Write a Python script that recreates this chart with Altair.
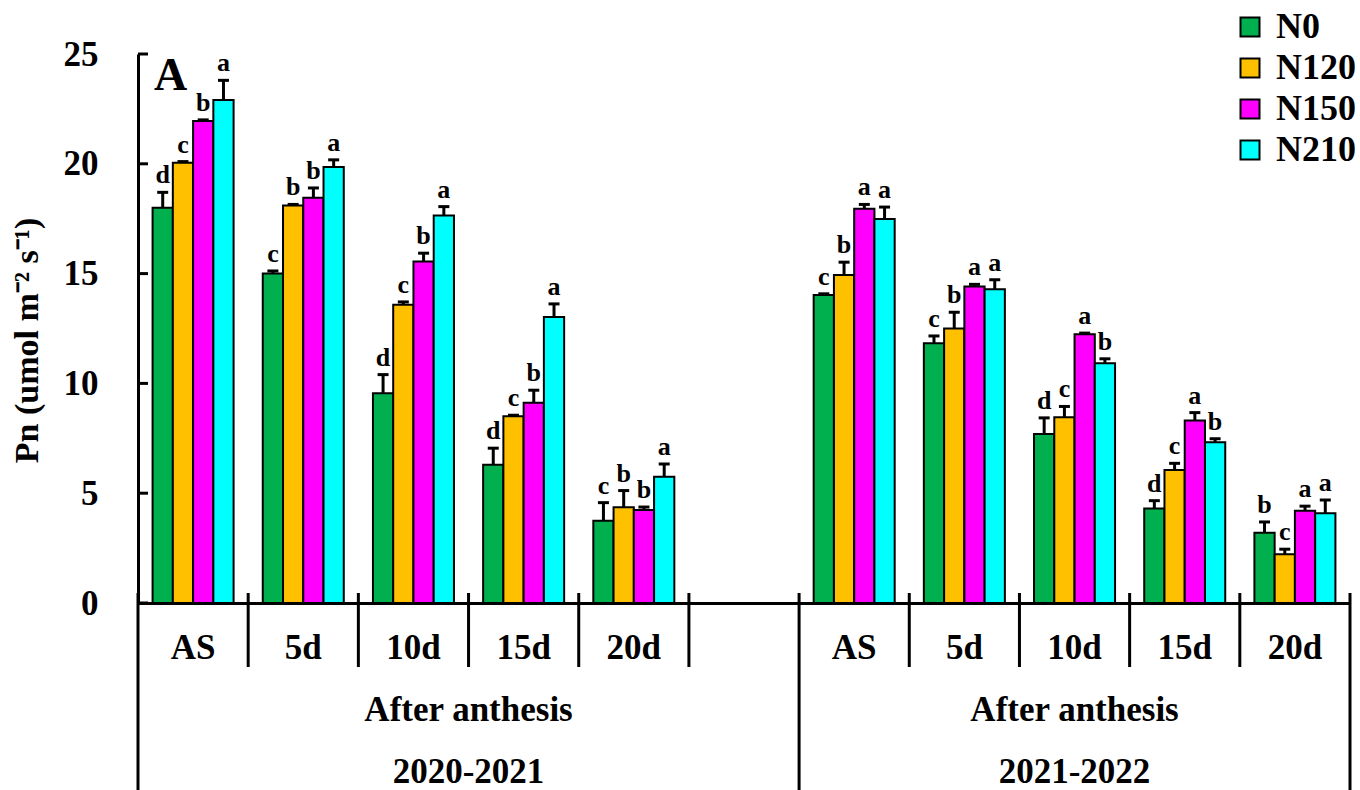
import altair as alt
import pandas as pd

# Net photosynthetic rate after anthesis under four nitrogen rates, two seasons
stages = ["AS", "5d", "10d", "15d", "20d"]
seasons = ["2020-2021", "2021-2022"]
treatments = ["N0", "N120", "N150", "N210"]
colors = ["#00B04F", "#FFC000", "#FF00FF", "#00FFFF"]

# mean values, one list per treatment (AS, 5d, 10d, 15d, 20d)
mean_2020 = {
    "N0":   [18.0, 15.0, 9.55, 6.3, 3.75],
    "N120": [20.05, 18.1, 13.58, 8.5, 4.36],
    "N150": [21.95, 18.45, 15.55, 9.12, 4.24],
    "N210": [22.9, 19.85, 17.65, 13.02, 5.75],
}
err_2020 = {
    "N0":   [0.7, 0.12, 0.85, 0.75, 0.82],
    "N120": [0.05, 0.05, 0.13, 0.05, 0.76],
    "N150": [0.05, 0.45, 0.38, 0.57, 0.13],
    "N210": [0.9, 0.33, 0.4, 0.6, 0.58],
}
sig_2020 = {
    "N0":   ["d", "c", "d", "d", "c"],
    "N120": ["c", "b", "c", "c", "b"],
    "N150": ["b", "b", "b", "b", "b"],
    "N210": ["a", "a", "a", "a", "a"],
}
mean_2021 = {
    "N0":   [14.03, 11.83, 7.7, 4.3, 3.2],
    "N120": [14.94, 12.5, 8.46, 6.06, 2.22],
    "N150": [17.95, 14.41, 12.24, 8.31, 4.2],
    "N210": [17.49, 14.29, 10.92, 7.32, 4.09],
}
err_2021 = {
    "N0":   [0.05, 0.33, 0.73, 0.36, 0.49],
    "N120": [0.58, 0.74, 0.49, 0.3, 0.23],
    "N150": [0.2, 0.1, 0.05, 0.36, 0.21],
    "N210": [0.54, 0.43, 0.2, 0.16, 0.6],
}
sig_2021 = {
    "N0":   ["c", "c", "d", "d", "b"],
    "N120": ["b", "b", "c", "c", "c"],
    "N150": ["a", "a", "a", "a", "a"],
    "N210": ["a", "a", "b", "b", "a"],
}
y_ticks = [0, 5, 10, 15, 20, 25]

FONT = "Liberation Serif"
GAP = "gap|"

# x slots: five stages per season with an empty slot between the seasons
slots = [f"{seasons[0]}|{s}" for s in stages] + [GAP] + [f"{seasons[1]}|{s}" for s in stages]

rows = []
for season, means, errs, sigs in [
    (seasons[0], mean_2020, err_2020, sig_2020),
    (seasons[1], mean_2021, err_2021, sig_2021),
]:
    for t in treatments:
        for i, st in enumerate(stages):
            rows.append({
                "slot": f"{season}|{st}",
                "treatment": t,
                "pn": means[t][i],
                "top": means[t][i] + errs[t][i],
                "sig": sigs[t][i],
            })
df = pd.DataFrame(rows)

W, H = 1212, 549
xs = alt.Scale(domain=slots, paddingInner=0, paddingOuter=0)
ys = alt.Scale(domain=[0, 25], nice=False, zero=True)
xo = alt.XOffset("treatment:N", scale=alt.Scale(domain=treatments, paddingOuter=0.72, paddingInner=0))

x_axis = alt.Axis(
    title=None, labelExpr="split(datum.label, '|')[1]", labelAngle=0,
    ticks=False, tickSize=0, labelPadding=44, labelBaseline="middle",
    labelFont=FONT, labelFontSize=35, labelFontWeight="bold", labelColor="black",
    domainColor="black", domainWidth=3, grid=False,
)
y_axis = alt.Axis(
    values=y_ticks, ticks=False, tickSize=0, labelPadding=40, labelFlush=False,
    labelFont=FONT, labelFontSize=35, labelFontWeight="bold", labelColor="black",
    domainColor="black", domainWidth=3, grid=False,
    title="Pn (umol m⁻² s⁻¹)", titleFont=FONT, titleFontSize=34, titleFontWeight="bold",
    titleColor="black", titleAngle=270, titleX=-111, titleY=286,
    titleAlign="center", titleBaseline="middle",
)

base = alt.Chart(df)

bars = base.mark_bar(stroke="black", strokeWidth=2).encode(
    x=alt.X("slot:N", scale=xs, axis=x_axis, sort=slots),
    xOffset=xo,
    y=alt.Y("pn:Q", scale=ys, axis=y_axis),
    color=alt.Color(
        "treatment:N",
        scale=alt.Scale(domain=treatments, range=colors),
        legend=alt.Legend(
            title=None, orient="none", legendX=1094, legendY=-45, padding=0,
            symbolType="square", symbolSize=361, symbolStrokeColor="black",
            symbolStrokeWidth=2, symbolOpacity=1, rowPadding=5, labelOffset=8,
            labelFont=FONT, labelFontSize=36, labelFontWeight="bold", labelColor="black",
        ),
    ),
)

err_rule = base.mark_rule(color="black", strokeWidth=3).encode(
    x=alt.X("slot:N", scale=xs, sort=slots),
    xOffset=xo,
    y=alt.Y("pn:Q", scale=ys),
    y2="top:Q",
)

err_cap = base.mark_tick(color="black", thickness=3, size=11, opacity=1).encode(
    x=alt.X("slot:N", scale=xs, sort=slots),
    xOffset=xo,
    y=alt.Y("top:Q", scale=ys),
)

letters = base.mark_text(
    font=FONT, fontSize=26, fontWeight="bold", color="black", baseline="bottom", dy=-4
).encode(
    x=alt.X("slot:N", scale=xs, sort=slots),
    xOffset=xo,
    y=alt.Y("top:Q", scale=ys),
    text="sig:N",
)

# inward ticks on the value axis
tick_df = pd.DataFrame({"v": y_ticks})
y_tick_marks = alt.Chart(tick_df).mark_rule(color="black", strokeWidth=3).encode(
    x=alt.value(0), x2=alt.value(10), y=alt.Y("v:Q", scale=ys)
)

# separators between the stage slots
inner = [s for i, s in enumerate(slots) if i not in (0, 6)]
outer = [slots[0], slots[6]]
short_sep = alt.Chart(pd.DataFrame({"slot": inner})).mark_rule(color="black", strokeWidth=3).encode(
    x=alt.X("slot:N", scale=xs, sort=slots, bandPosition=0),
    y=alt.value(H - 10), y2=alt.value(H + 64),
)
long_sep = alt.Chart(pd.DataFrame({"slot": outer})).mark_rule(color="black", strokeWidth=3).encode(
    x=alt.X("slot:N", scale=xs, sort=slots, bandPosition=0),
    y=alt.value(H - 10), y2=alt.value(H + 190),
)
right_sep = alt.Chart(pd.DataFrame({"slot": [slots[-1]]})).mark_rule(color="black", strokeWidth=3).encode(
    x=alt.X("slot:N", scale=xs, sort=slots, bandPosition=1),
    y=alt.value(H - 10), y2=alt.value(H + 190),
)


def span_text(slot, band, text, ypix):
    return alt.Chart(pd.DataFrame({"slot": [slot], "t": [text]})).mark_text(
        font=FONT, fontSize=35, fontWeight="bold", color="black", baseline="middle"
    ).encode(
        x=alt.X("slot:N", scale=xs, sort=slots, bandPosition=band),
        y=alt.value(ypix),
        text="t:N",
    )


span_labels = [
    span_text(slots[3], 0, "After anthesis", H + 107),
    span_text(slots[3], 0, seasons[0], H + 169),
    span_text(slots[8], 0.5, "After anthesis", H + 107),
    span_text(slots[8], 0.5, seasons[1], H + 169),
]

panel_tag = alt.Chart(pd.DataFrame({"t": ["A"]})).mark_text(
    font=FONT, fontSize=46, fontWeight="bold", color="black", align="left", baseline="alphabetic"
).encode(x=alt.value(16), y=alt.value(36), text="t:N")

chart = alt.layer(
    bars, err_rule, err_cap, letters, y_tick_marks,
    short_sep, long_sep, right_sep, *span_labels, panel_tag,
).properties(
    width=W, height=H,
    background="white",
    autosize=alt.AutoSizeParams(type="none"),
    padding={"left": 138, "top": 54, "right": 10, "bottom": 187},
).configure_view(stroke=None)

chart.save("out.html", embed_options={"renderer": "svg", "actions": False})
